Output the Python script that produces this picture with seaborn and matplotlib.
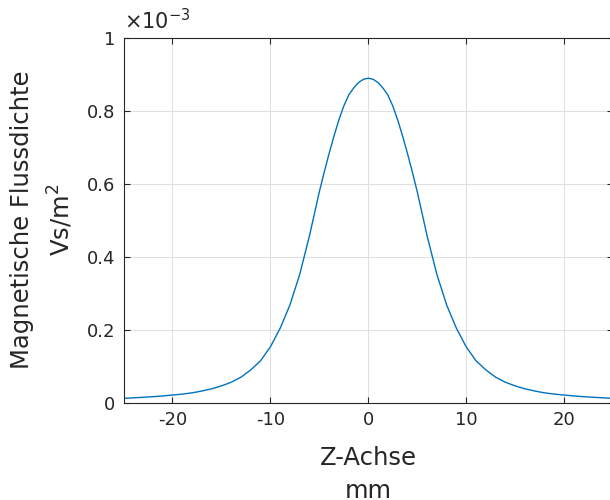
import matplotlib
matplotlib.use('Agg')
import matplotlib.pyplot as plt
import matplotlib.ticker as mticker
import numpy as np
import pandas as pd
import seaborn as sns

# field along the coil axis (units of 1e-3 Vs/m^2)
z_mm = [-25, -24, -23, -22, -21, -20, -19, -18, -17, -16, -15, -14, -13, -12, -11,
        -10, -9, -8, -7, -6, -5.5, -5, -4.5, -4, -3.5, -3, -2.5, -2, -1.5, -1, -0.5,
        0, 0.5, 1, 1.5, 2, 2.5, 3, 3.5, 4, 4.5, 5, 5.5, 6, 7, 8, 9, 10,
        11, 12, 13, 14, 15, 16, 17, 18, 19, 20, 21, 22, 23, 24, 25]
b_field = [0.012, 0.0133, 0.0148, 0.0165, 0.0185, 0.021, 0.0235, 0.027, 0.032, 0.038,
           0.046, 0.056, 0.070, 0.090, 0.115, 0.153, 0.204, 0.268, 0.352, 0.458,
           0.518, 0.578, 0.632, 0.683, 0.731, 0.775, 0.813, 0.843, 0.862, 0.877, 0.886,
           0.889, 0.886, 0.877, 0.862, 0.843, 0.813, 0.775, 0.731, 0.683, 0.632,
           0.578, 0.518, 0.458, 0.352, 0.268, 0.204, 0.153,
           0.115, 0.090, 0.070, 0.056, 0.046, 0.038, 0.032, 0.027, 0.0235, 0.021,
           0.0185, 0.0165, 0.0148, 0.0133, 0.012]
x_ticks = [-20, -10, 0, 10, 20]
y_ticks = [0, 0.2, 0.4, 0.6, 0.8, 1]

df = pd.DataFrame({'z': z_mm, 'B': b_field})

sns.set_style('ticks')
plt.rcParams['font.family'] = ['DejaVu Sans']
plt.rcParams['axes.unicode_minus'] = False

dark = '#262626'
fig = plt.figure(figsize=(6.1, 5.0), dpi=100)
ax = fig.add_axes([0.2025, 0.1946, 0.8025, 0.73])

sns.lineplot(data=df, x='z', y='B', color='#0072BD', linewidth=1.0, ax=ax)

ax.set_xlim(-25, 25)
ax.set_ylim(0, 1)
ax.set_xticks(x_ticks)
ax.set_yticks(y_ticks)
ax.yaxis.set_major_formatter(mticker.FuncFormatter(lambda v, p: f'{v:g}'))
ax.xaxis.set_major_formatter(mticker.FuncFormatter(lambda v, p: f'{v:g}'))
ax.grid(True, color='#dfdfdf', linewidth=0.7)
ax.set_axisbelow(True)
ax.tick_params(direction='in', top=True, right=True, length=4, width=0.8,
               colors=dark, labelsize=13, pad=6)
for s in ax.spines.values():
    s.set_color(dark)
    s.set_linewidth(0.8)

ax.set_xlabel('Z-Achse\nmm', fontsize=17.5, color=dark, linespacing=1.5, labelpad=12)
ax.set_ylabel('Magnetische Flussdichte\nVs/m$^2$', fontsize=17.5, color=dark,
              linespacing=1.5, labelpad=8)
ax.text(0.0, 1.012, r'$\times10^{-3}$', transform=ax.transAxes, fontsize=15,
        color=dark, ha='left', va='bottom')

fig.savefig('out.png', dpi=100)
